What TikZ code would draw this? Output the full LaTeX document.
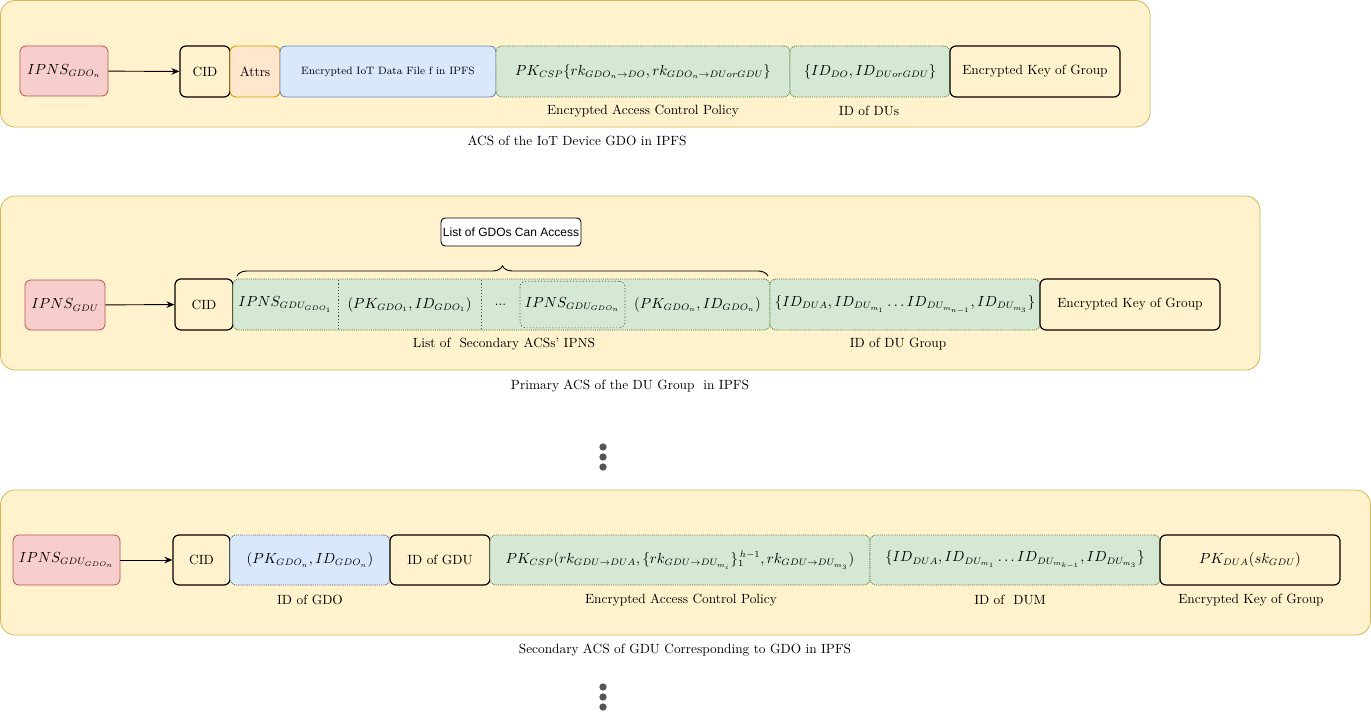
\documentclass[tikz,border=0pt]{standalone}
\usepackage{amsmath}
\usepackage{fontspec}
\newfontfamily\labelsans{Liberation Sans}
\usetikzlibrary{arrows.meta,decorations.pathreplacing}

\definecolor{panelfill}{HTML}{FFF2CC}
\definecolor{paneldraw}{HTML}{D6B656}
\definecolor{redfill}{HTML}{F8CECC}
\definecolor{reddraw}{HTML}{B85450}
\definecolor{orangefill}{HTML}{FFE6CC}
\definecolor{orangedraw}{HTML}{D79B00}
\definecolor{bluefill}{HTML}{DAE8FC}
\definecolor{bluedraw}{HTML}{6C8EBF}
\definecolor{bluedot}{HTML}{3D5A80}
\definecolor{greenfill}{HTML}{D5E8D4}
\definecolor{greendot}{HTML}{4E7A3A}
\definecolor{dotgray}{HTML}{555555}

\tikzset{
  panel/.style={draw=paneldraw, fill=panelfill, rounded corners=11pt, line width=0.6pt},
  cell/.style={rectangle, rounded corners=4.5pt, inner sep=0pt, minimum height=38.25pt, align=center},
  mathtext/.style={font=\fontsize{10.7}{13}\selectfont},
  ipns/.style={cell, mathtext, draw=reddraw, fill=redfill, line width=0.6pt},
  plain/.style={cell, draw=black, fill=panelfill, line width=0.9pt},
  attr/.style={cell, draw=orangedraw, fill=orangefill, line width=0.7pt},
  blue/.style={cell, draw=bluedraw, fill=bluefill, line width=0.7pt},
  bluedotted/.style={cell, mathtext, draw=bluedot, fill=bluefill, line width=0.6pt, dash pattern=on 0.8pt off 0.8pt},
  green/.style={cell, mathtext, draw=greendot, fill=greenfill, line width=0.6pt, dash pattern=on 0.8pt off 0.8pt},
  sub/.style={rectangle, mathtext, inner sep=0pt, minimum height=36pt, align=center},
  caption/.style={inner sep=0pt, font=\normalsize},
  link/.style={-{Stealth[length=6pt,width=5pt]}, line width=0.7pt},
  sep/.style={draw=black!70, line width=0.5pt, dash pattern=on 0.8pt off 1.6pt},
  vdot/.style={circle, fill=dotgray, inner sep=0pt, minimum size=5.5pt},
}

\begin{document}
\begin{tikzpicture}[x=0.75pt, y=-0.75pt]
\useasboundingbox (0,0) rectangle (1371,717);

% ---------- ACS of the IoT device ----------
\draw[panel] (0.5,0.5) rectangle (1150,127);
\node[ipns, minimum width=66pt, minimum height=37.5pt] (ipnsA) at (64,71) {$IPNS_{GDO_n}$};
\node[plain, minimum width=37.5pt] (cidA) at (205,71.5) {CID};
\node[attr, minimum width=37.5pt] (attrA) at (255,71.5) {Attrs};
\node[blue, minimum width=162pt, font=\footnotesize] (fileA) at (388,71.5) {Encrypted IoT Data File f in IPFS};
\node[green, minimum width=220.5pt] (polA) at (643,71.5) {$PK_{CSP}\{rk_{GDO_n\to DO}, rk_{GDO_n\to DU or GDU}\}$};
\node[green, minimum width=120pt] (idsA) at (870,71.5) {$\{ID_{DO}, ID_{DU or GDU}\}$};
\node[plain, minimum width=127.5pt] (keyA) at (1035,71.5) {Encrypted Key of Group};
\draw[link] (ipnsA) -- (cidA);
\node[caption] (polAlab) at (643,111) {Encrypted Access Control Policy};
\node[caption] (idsAlab) at (869,111) {ID of DUs};
\node[caption] (capA) at (577,141) {ACS of the IoT Device GDO in IPFS};

% ---------- Primary ACS of the DU group ----------
\draw[panel] (0.5,196) rectangle (1260,370);
\node[ipns, minimum width=60pt, minimum height=37.5pt] (ipnsB) at (65,305) {$IPNS_{GDU}$};
\node[plain, minimum width=43.5pt] (cidB) at (204,304.5) {CID};
\node[green, minimum width=402.75pt] (listB) at (501.5,304.5) {};
\node[sub, minimum width=78.75pt] (s1) at (285.5,304.5) {$IPNS_{GDU_{GDO_1}}$};
\node[sub, minimum width=107.25pt] (s2) at (409.5,304.5) {$(PK_{GDO_1}, ID_{GDO_1})$};
\node[sub, minimum width=29.25pt, font=\normalsize] (s3) at (500.5,304.5) {...};
\node[sub, minimum width=78.75pt, minimum height=35pt, rounded corners=4.5pt, sep] (s4) at (572.5,304.5) {$IPNS_{GDU_{GDO_n}}$};
\node[sub, minimum width=108.75pt] (s5) at (697.5,304.5) {$(PK_{GDO_n}, ID_{GDO_n})$};
\draw[sep] (s1.north east) -- (s1.south east);
\draw[sep] (s2.north east) -- (s2.south east);
\node[green, minimum width=202.5pt] (idsB) at (905,304.5) {$\{ID_{DUA}, ID_{DU_{m_1}}\ldots ID_{DU_{m_{n-1}}}, ID_{DU_{m_3}}\}$};
\node[plain, minimum width=135pt] (keyB) at (1130,304.5) {Encrypted Key of Group};
\draw[link] (ipnsB) -- (cidB);
\coordinate (braceL) at (237,276);
\coordinate (braceR) at (768,276);
\draw[decorate, decoration={brace, amplitude=7.5pt}, line width=0.7pt] (braceL) -- (braceR);
\node[draw=black, fill=white, rounded corners=3pt, line width=0.7pt, minimum width=105pt, minimum height=21pt, inner sep=0pt, font=\labelsans\small] (gdos) at (511,232) {List of GDOs Can Access};
\node[caption] (listBlab) at (504,344) {List of \ Secondary ACSs' IPNS};
\node[caption] (idsBlab) at (898,344) {ID of DU Group};
\node[caption] (capB) at (630,386) {Primary ACS of the DU Group \ in IPFS};

% ---------- vertical ellipsis ----------
\node[vdot] (d1) at (603,447) {};
\node[vdot] (d2) at (603,457) {};
\node[vdot] (d3) at (603,467) {};

% ---------- Secondary ACS of GDU ----------
\draw[panel] (0.5,490) rectangle (1370.5,635);
\node[ipns, minimum width=80.25pt, minimum height=37.5pt] (ipnsC) at (66.5,560) {$IPNS_{GDU_{GDO_n}}$};
\node[plain, minimum width=42.75pt, minimum height=37.5pt] (cidC) at (201.5,560) {CID};
\node[bluedotted, minimum width=120pt, minimum height=37.5pt] (pkC) at (310,560) {$(PK_{GDO_n}, ID_{GDO_n})$};
\node[plain, minimum width=75pt, minimum height=37.5pt] (gduC) at (440,560) {ID of GDU};
\node[green, minimum width=285pt, minimum height=37.5pt] (polC) at (680,560) {$PK_{CSP}(rk_{GDU\to DUA},\{rk_{GDU\to DU_{m_i}}\}_{1}^{\,h-1}, rk_{GDU\to DU_{m_3}})$};
\node[green, minimum width=217.5pt, minimum height=37.5pt] (idsC) at (1015,560) {$\{ID_{DUA}, ID_{DU_{m_1}}\ldots ID_{DU_{m_{k-1}}}, ID_{DU_{m_3}}\}$};
\node[plain, mathtext, minimum width=135pt, minimum height=37.5pt] (keyC) at (1250,560) {$PK_{DUA}(sk_{GDU})$};
\draw[link] (ipnsC) -- (cidC);
\node[caption] (pkClab) at (310,600) {ID of GDO};
\node[caption] (polClab) at (681,600) {Encrypted Access Control Policy};
\node[caption] (idsClab) at (1010,600) {ID of \ DUM};
\node[caption] (keyClab) at (1251,600) {Encrypted Key of Group};
\node[caption] (capC) at (685,650) {Secondary ACS of GDU Corresponding to GDO in IPFS};

% ---------- trailing vertical ellipsis ----------
\node[vdot] (e1) at (603,687) {};
\node[vdot] (e2) at (603,697) {};
\node[vdot] (e3) at (603,707) {};
\end{tikzpicture}
\end{document}
